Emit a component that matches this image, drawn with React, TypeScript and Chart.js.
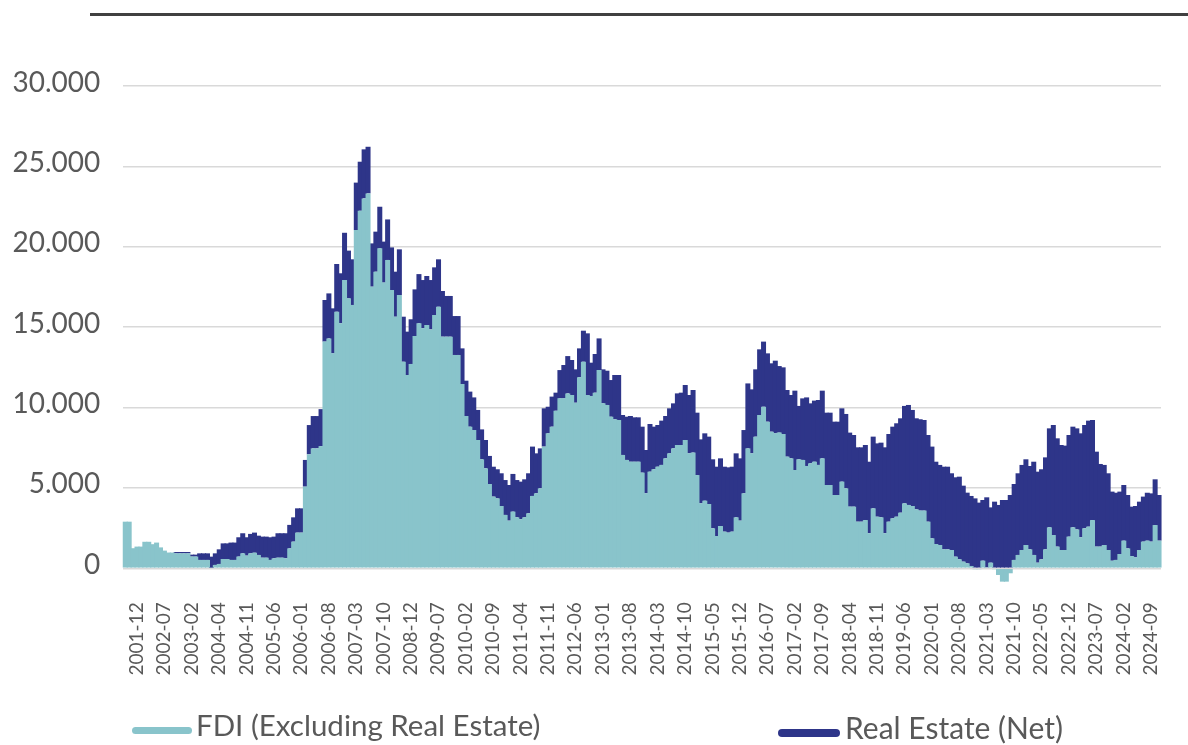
import React, { useEffect, useRef } from "react";
import { Chart, registerables } from "chart.js";

Chart.register(...registerables);

// Category months: [first month, how many categories, month step]
const CATEGORY_SEGMENTS: [string, number, number][] = [
  ["2001-12", 15, 1],
  ["2003-04", 6, 2],
  ["2004-04", 43, 1],
  ["2007-12", 6, 2],
  ["2008-12", 195, 1],
];

function buildCategories(): string[] {
  const out: string[] = [];
  for (const [start, count, step] of CATEGORY_SEGMENTS) {
    let [y, m] = start.split("-").map(Number);
    for (let k = 0; k < count; k++) {
      out.push(`${y}-${String(m).padStart(2, "0")}`);
      m += step;
      while (m > 12) {
        m -= 12;
        y += 1;
      }
    }
  }
  return out;
}
const CATEGORIES = buildCategories();

const TICK_EVERY = 7;
const TICK_LABELS = [
  "2001-12", "2002-07", "2003-02", "2004-04", "2004-11", "2005-06", "2006-01", "2006-08",
  "2007-03", "2007-10", "2008-12", "2009-07", "2010-02", "2010-09", "2011-04", "2011-11",
  "2012-06", "2013-01", "2013-08", "2014-03", "2014-10", "2015-05", "2015-12", "2016-07",
  "2017-02", "2017-09", "2018-04", "2018-11", "2019-06", "2020-01", "2020-08", "2021-03",
  "2021-10", "2022-05", "2022-12", "2023-07", "2024-02", "2024-09",
];

const Y_TICKS = [0, 5000, 10000, 15000, 20000, 25000, 30000];

const FDI_EXCL_REAL_ESTATE = [
  2900, 2900, 1250, 1350, 1350, 1650, 1650, 1500, 1600, 1300,
  1100, 980, 980, 930, 930, 930, 930, 730, 730, 520,
  520, 520, 30, 210, 270, 580, 580, 520, 520, 730,
  930, 790, 930, 970, 830, 660, 660, 520, 620, 660,
  660, 620, 1240, 1660, 2220, 2220, 5080, 7090, 7460, 7460,
  7600, 14100, 14300, 13370, 15960, 15240, 17930, 16790, 16380, 21040,
  22240, 23010, 23320, 17520, 18450, 19900, 17770, 19180, 17310, 15650,
  17000, 12850, 12020, 12710, 14450, 15240, 14930, 15130, 14860, 15750,
  16270, 14410, 14410, 14410, 13270, 13270, 11460, 9470, 8810, 8600,
  7980, 6780, 6220, 5245, 4460, 4350, 3875, 3320, 2965, 3525,
  3170, 3050, 3170, 3420, 4500, 4665, 4975, 7570, 8395, 8810,
  9800, 10570, 10570, 10880, 10780, 10300, 11880, 12850, 10780, 10720,
  10925, 12335, 10260, 10160, 9430, 9265, 9225, 7050, 6740, 6630,
  6630, 6630, 5950, 4665, 6010, 6160, 6320, 6430, 6840, 7150,
  7460, 7670, 7670, 7980, 7150, 7200, 5800, 4040, 4205, 4000,
  2490, 2010, 2630, 2280, 2220, 2280, 3170, 2965, 4665, 7460,
  7150, 8190, 9535, 10050, 9120, 8500, 8395, 8440, 8355, 6945,
  6840, 6115, 6780, 6740, 6365, 6530, 6630, 6430, 6840, 5180,
  5180, 4560, 4560, 5390, 4975, 3835, 3835, 2900, 2900, 3000,
  2180, 3730, 3210, 3170, 2180, 2900, 3110, 3210, 3460, 4040,
  3940, 3875, 3670, 3590, 3590, 2900, 1865, 1510, 1450, 1180,
  1180, 1140, 725, 560, 415, 310, 145, -60, -60, 475,
  60, 350, -60, -415, -830, -830, -310, 520, 830, 1140,
  1450, 1180, 830, 350, 560, 1180, 2550, 2070, 1350, 1140,
  1140, 1970, 2550, 2420, 1930, 2490, 2590, 3000, 1350, 1350,
  1450, 1140, 470, 520, 890, 1720, 1240, 760, 680, 1140,
  1660, 1720, 1660, 2690, 1720,
];

const REAL_ESTATE_NET = [
  0, 0, 0, 0, 0, 0, 0, 0, 0, 0,
  0, 0, 0, 85, 85, 85, 85, 120, 120, 410,
  410, 410, 695, 720, 910, 970, 970, 1080, 1080, 1200,
  1250, 1140, 1210, 1250, 1200, 1310, 1310, 1410, 1350, 1520,
  1520, 1560, 1460, 1510, 1510, 1510, 1660, 1820, 2010, 2010,
  2300, 2590, 2800, 2800, 2970, 3110, 2940, 2970, 2840, 2950,
  3050, 3050, 2900, 2690, 2490, 2590, 2550, 2520, 2650, 2800,
  2840, 2800, 2700, 2780, 2900, 3060, 3000, 3050, 3070, 2970,
  2950, 2840, 2530, 2530, 2420, 2420, 2220, 2200, 2180, 2030,
  1870, 1860, 1760, 1745, 1860, 1810, 2035, 2170, 2215, 2345,
  2320, 2340, 2365, 2490, 3070, 2485, 2485, 2380, 1655, 1870,
  1125, 1760, 2075, 2320, 2175, 2075, 1800, 1930, 3835, 2070,
  2405, 1965, 2115, 2130, 2280, 2760, 2800, 2485, 2690, 2845,
  2760, 2760, 2860, 2695, 2965, 2650, 2595, 2755, 2635, 2800,
  2800, 3210, 3255, 3420, 3630, 3890, 3880, 3980, 4190, 4190,
  4290, 4310, 4210, 4040, 4060, 4040, 3980, 3875, 3935, 4040,
  3980, 4185, 4085, 4050, 4250, 4250, 4520, 4140, 4145, 4145,
  3940, 4935, 3320, 3830, 4265, 3730, 3800, 4040, 4210, 4500,
  4500, 4560, 4560, 4560, 4625, 4605, 4455, 4625, 4625, 4670,
  4450, 4460, 4560, 4645, 5345, 5455, 5700, 5810, 5870, 6060,
  6220, 5975, 5660, 5680, 5635, 5390, 5705, 5120, 4980, 5140,
  5140, 4770, 4935, 5140, 4725, 4395, 4355, 4350, 4085, 3775,
  4355, 3440, 4145, 3940, 4250, 4250, 4560, 4725, 5080, 5290,
  5330, 5185, 5800, 5660, 5600, 5720, 6155, 6845, 6735, 6530,
  6490, 6320, 6260, 6285, 6465, 6425, 6595, 6225, 5905, 5140,
  4980, 4770, 4300, 4180, 3880, 3460, 3320, 3075, 3195, 3005,
  2800, 2980, 3000, 2845, 2840,
];

const TEAL = "#89C4CB";
const NAVY = "#2E3589";
const TEXT = "#595959";
const FONT = "Lato, 'Open Sans', sans-serif";
// slight overlap between neighbouring bars hides anti-aliasing seams
const BAR_PCT = 1.28;

function fmt(v: number): string {
  return String(Math.round(v)).replace(/\B(?=(\d{3})+(?!\d))/g, ".");
}

export default function App() {
  const canvasRef = useRef<HTMLCanvasElement | null>(null);

  useEffect(() => {
    const canvas = canvasRef.current;
    if (!canvas) return;
    const chart = new Chart(canvas, {
      type: "bar",
      data: {
        labels: CATEGORIES,
        datasets: [
          {
            label: "FDI (Excluding Real Estate)",
            data: FDI_EXCL_REAL_ESTATE,
            backgroundColor: TEAL,
            borderWidth: 0,
            barPercentage: BAR_PCT,
            categoryPercentage: 1,
            clip: false as any,
          },
          {
            label: "Real Estate (Net)",
            data: REAL_ESTATE_NET,
            backgroundColor: NAVY,
            borderWidth: 0,
            barPercentage: BAR_PCT,
            categoryPercentage: 1,
            clip: false as any,
          },
        ],
      },
      options: {
        responsive: false,
        animation: false,
        events: [],
        layout: { padding: { top: 86, right: 27, left: 0, bottom: 0 } },
        plugins: { legend: { display: false }, tooltip: { enabled: false } },
        scales: {
          x: {
            stacked: true,
            grid: { display: false, drawTicks: false },
            border: { display: false },
            ticks: {
              autoSkip: false,
              maxRotation: 90,
              minRotation: 90,
              font: { family: FONT, size: 19 },
              color: TEXT,
              padding: 34,
              labelOffset: 11.5,
              callback: (_v: any, i: number) =>
                i % TICK_EVERY === 0 && TICK_LABELS[i / TICK_EVERY] !== undefined
                  ? TICK_LABELS[i / TICK_EVERY]
                  : null,
            },
            afterFit: (s: any) => {
              s.height = 745 - 568.3;
              s.paddingLeft = 0;
              s.paddingRight = 0;
            },
          },
          y: {
            stacked: true,
            min: Y_TICKS[0],
            max: Y_TICKS[Y_TICKS.length - 1],
            grid: { color: "#D9D9D9", lineWidth: 1.5, drawTicks: false },
            border: { display: false },
            afterBuildTicks: (s: any) => {
              s.ticks = Y_TICKS.map((v) => ({ value: v }));
            },
            ticks: {
              font: { family: FONT, size: 28 },
              color: TEXT,
              padding: 23,
              labelOffset: -3.5,
              callback: (v: any) => fmt(Number(v)),
            },
            afterFit: (s: any) => {
              s.width = 123.3;
              s.paddingTop = 0;
              s.paddingBottom = 0;
            },
          },
        },
      },
    });
    return () => chart.destroy();
  }, []);

  return (
    <div style={{ position: "absolute", left: 0, top: 0, width: 1188, height: 745, background: "#fff", overflow: "hidden" }}>
      <div style={{ position: "absolute", left: 90, top: 13, width: 1098, height: 3, background: "#404040" }} />
      <canvas ref={canvasRef} width={1188} height={745} style={{ position: "absolute", left: 0, top: 0, display: "block" }} />
      <div style={{ position: "absolute", left: 132, top: 726.5, width: 60, height: 7, borderRadius: 4, background: TEAL }} />
      <div style={{ position: "absolute", left: 196, top: 710.4, fontFamily: FONT, fontSize: 29.5, lineHeight: "30px", color: TEXT, whiteSpace: "nowrap" }}>
        FDI (Excluding Real Estate)
      </div>
      <div style={{ position: "absolute", left: 778, top: 728.5, width: 62, height: 8, borderRadius: 4, background: NAVY }} />
      <div style={{ position: "absolute", left: 845, top: 712.4, fontFamily: FONT, fontSize: 30, lineHeight: "30px", color: TEXT, whiteSpace: "nowrap" }}>
        Real Estate (Net)
      </div>
    </div>
  );
}
